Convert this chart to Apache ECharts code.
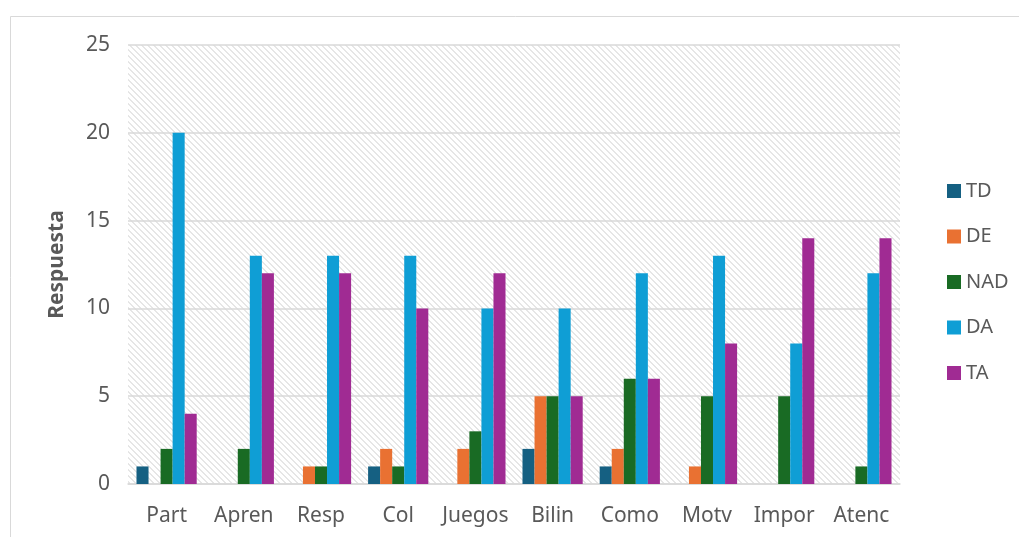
<!DOCTYPE html>
<html>
<head>
<meta charset="utf-8">
<script src="https://cdn.jsdelivr.net/npm/echarts@6/dist/echarts.min.js"></script>
<style>
  html, body { margin: 0; padding: 0; background: #fff; }
  #chart { width: 1019px; height: 537px; }
</style>
</head>
<body>
<div id="chart"></div>
<script>
const categories = ['Part', 'Apren', 'Resp', 'Col', 'Juegos', 'Bilin', 'Como', 'Motv', 'Impor', 'Atenc']
const seriesNames = ['TD', 'DE', 'NAD', 'DA', 'TA']
const tdValues = [1, 0, 0, 1, 0, 2, 1, 0, 0, 0]
const deValues = [0, 0, 1, 2, 2, 5, 2, 1, 0, 0]
const nadValues = [2, 2, 1, 1, 3, 5, 6, 5, 5, 1]
const daValues = [20, 13, 13, 13, 10, 10, 12, 13, 8, 12]
const taValues = [4, 12, 12, 10, 12, 5, 6, 8, 14, 14]
const colors = ['#156082', '#E97132', '#196B24', '#0F9ED5', '#A02B93']

// hatch pattern for the plot area (light diagonal stripes)
const hatch = document.createElement('canvas')
hatch.width = 6
hatch.height = 6
const hctx = hatch.getContext('2d')
hctx.fillStyle = '#ffffff'
hctx.fillRect(0, 0, 6, 6)
hctx.fillStyle = '#e6e6e6'
for (let y = 0; y < 6; y++) {
  hctx.fillRect(y, y, 1, 1)
  hctx.fillRect((y + 1) % 6, y, 1, 1)
}

const allValues = [tdValues, deValues, nadValues, daValues, taValues]
const font = 'Noto Sans'

const chart = echarts.init(document.getElementById('chart'))
chart.setOption({
  animation: false,
  color: colors,
  graphic: [{
    type: 'rect',
    shape: { x: 10.5, y: 16.5, width: 1020, height: 540 },
    style: { fill: 'none', stroke: '#d9d9d9', lineWidth: 1 },
    silent: true
  }],
  grid: {
    left: 128,
    right: 119,
    top: 45,
    bottom: 53,
    show: true,
    borderWidth: 0,
    backgroundColor: { image: hatch, repeat: 'repeat' }
  },
  legend: {
    orient: 'vertical',
    left: 942,
    top: 176,
    itemWidth: 14,
    itemHeight: 14,
    itemGap: 25.5,
    icon: 'rect',
    data: seriesNames,
    textStyle: { fontSize: 20, lineHeight: 20, color: '#595959', fontFamily: font }
  },
  xAxis: {
    type: 'category',
    data: categories,
    axisLine: { lineStyle: { color: '#d9d9d9', width: 1.5 } },
    axisTick: { show: false },
    axisLabel: { interval: 0, hideOverlap: false, fontSize: 21, color: '#595959', margin: 22, fontFamily: font }
  },
  yAxis: {
    type: 'value',
    min: 0,
    max: 25,
    interval: 5,
    name: 'Respuesta',
    nameLocation: 'middle',
    nameGap: 60,
    nameTextStyle: { fontSize: 21, fontWeight: 'bold', color: '#595959', fontFamily: font },
    axisLine: { show: false },
    axisTick: { show: false },
    splitLine: { lineStyle: { color: '#d9d9d9', width: 1.5 } },
    axisLabel: { fontSize: 21, color: '#595959', margin: 18, fontFamily: font }
  },
  series: seriesNames.map((name, i) => ({
    name: name,
    type: 'bar',
    data: allValues[i],
    barGap: '0%',
    barCategoryGap: '22%'
  }))
})
</script>
</body>
</html>
